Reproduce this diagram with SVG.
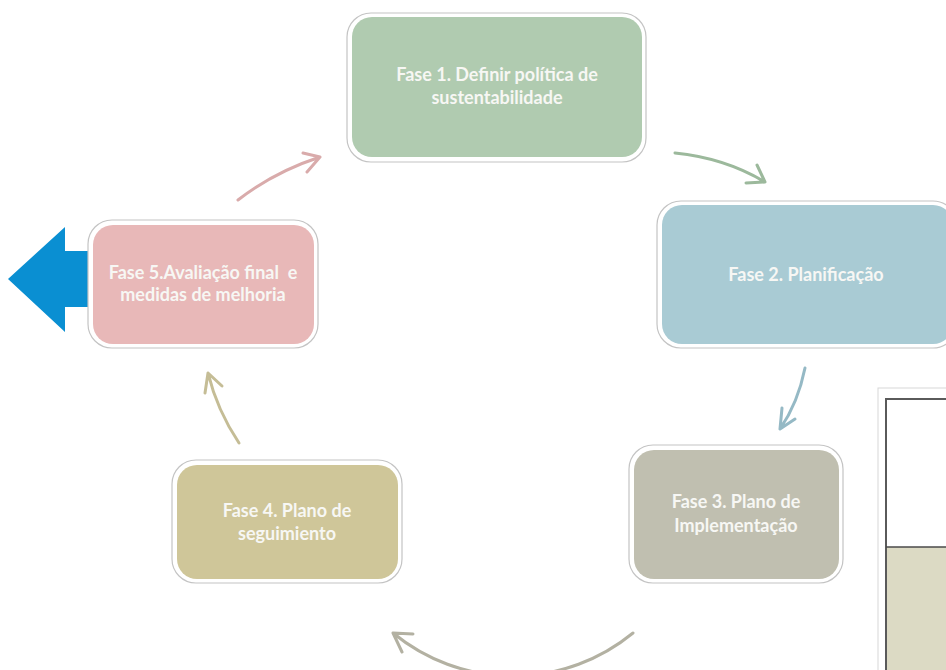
<svg xmlns="http://www.w3.org/2000/svg" width="946" height="670" viewBox="0 0 946 670">
<style>
.outer{fill:#ffffff;stroke:#c4c4c4;stroke-width:1.2}
.lbl{font-family:Lato,"Liberation Sans",sans-serif;font-weight:bold;font-size:18px;fill:#f7f7f4;text-anchor:middle}
.con{fill:none;stroke-width:3;stroke-linecap:round;stroke-linejoin:round}
</style>
<rect width="946" height="670" fill="#ffffff"/>
<g id="side-panel">
<rect x="878" y="388" width="80" height="300" fill="#ffffff" stroke="#d8d8d8" stroke-width="1"/>
<rect x="886" y="547" width="70" height="130" fill="#dcdac4"/>
<path d="M956,399 H886 V680" fill="none" stroke="#5a5a5a" stroke-width="2"/>
<path d="M886,547 H956" fill="none" stroke="#4a4a4a" stroke-width="1.5"/>
</g>
<g id="exit-arrow">
<polygon points="8,279 65,227 65,251 95,251 95,307 65,307 65,332" fill="#0a8fd2"/>
</g>
<g id="connectors">
<path class="con" stroke="#9cb99c" d="M675,153 Q725,158 765,182 M746,183 L765,182 L757,165"/>
<path class="con" stroke="#95b9c5" d="M805,368 Q798,403 780,429 M795,419 L780,429 L782,408"/>
<path class="con" stroke="#b3b1a2" d="M633,633 A189,189 0 0 1 393,633 M413,634 L393,633 L402,652"/>
<path class="con" stroke="#c5bd96" d="M239,443 Q217,410 208,373 M205,393 L208,373 L222,386"/>
<path class="con" stroke="#d9abab" d="M238,200 Q274,172 320,157 M303,153 L320,157 L307,172"/>
</g>
<g id="node1">
<rect class="outer" x="347" y="13" width="299" height="149" rx="24"/>
<rect x="352" y="17" width="290" height="140" rx="20" fill="#b0cbb0"/>
<text class="lbl" x="497" y="81">Fase 1. Definir política de</text>
<text class="lbl" x="497" y="104">sustentabilidade</text>
</g>
<g id="node2">
<rect class="outer" x="657" y="201" width="300" height="147" rx="24"/>
<rect x="662" y="205" width="291" height="139" rx="20" fill="#a9cbd4"/>
<text class="lbl" x="806" y="281">Fase 2. Planificação</text>
</g>
<g id="node3">
<rect class="outer" x="629" y="445" width="214" height="138" rx="24"/>
<rect x="634" y="450" width="205" height="129" rx="20" fill="#c0bfb0"/>
<text class="lbl" x="736" y="508">Fase 3. Plano de</text>
<text class="lbl" x="736" y="532">Implementação</text>
</g>
<g id="node4">
<rect class="outer" x="172" y="460" width="230" height="123" rx="24"/>
<rect x="177" y="465" width="221" height="114" rx="20" fill="#cfc699"/>
<text class="lbl" x="287" y="517">Fase 4. Plano de</text>
<text class="lbl" x="287" y="540">seguimiento</text>
</g>
<g id="node5">
<rect class="outer" x="88" y="220" width="230" height="128" rx="24"/>
<rect x="93" y="225" width="221" height="119" rx="20" fill="#e8b8b8"/>
<text class="lbl" x="203" y="279" xml:space="preserve">Fase 5.Avaliação final  e</text>
<text class="lbl" x="203" y="301">medidas de melhoria</text>
</g>
</svg>
